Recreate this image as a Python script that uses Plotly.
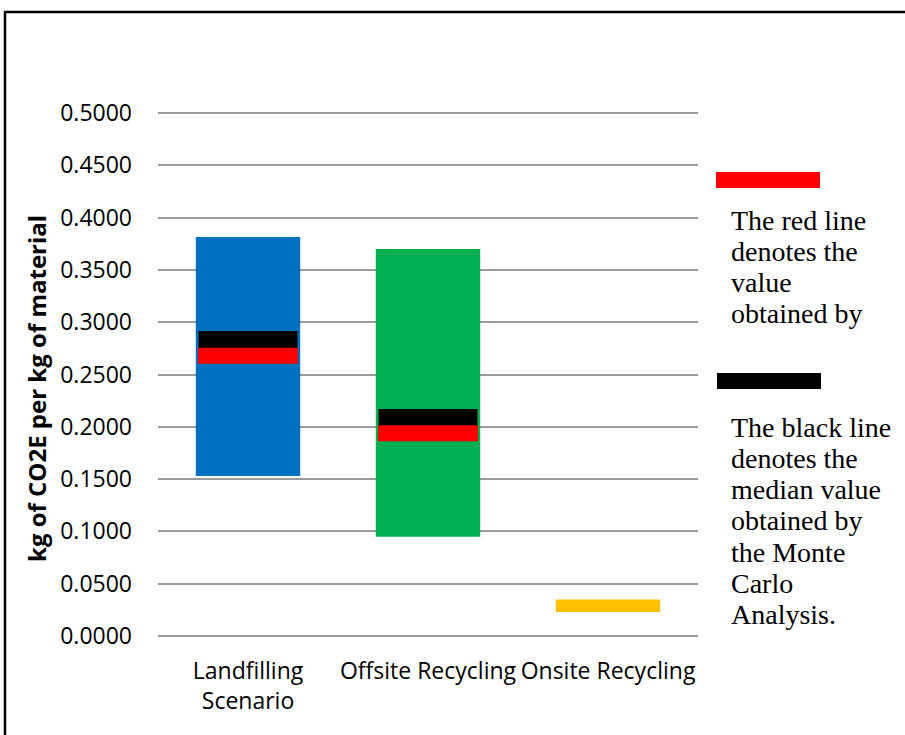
import plotly.graph_objects as go

# ---------------- data ----------------
categories = ["Landfilling<br>Scenario", "Offsite Recycling", "Onsite Recycling"]
range_low = [0.153, 0.095, 0.023]
range_high = [0.3815, 0.370, 0.035]
bar_colors = ["#0070C0", "#00B050", "#FFC000"]

marker_categories = ["Landfilling<br>Scenario", "Offsite Recycling"]
median_values = [0.2796, 0.2050]        # black line: Monte Carlo median
deterministic_values = [0.2680, 0.1938]  # red line

y_tick_values = [0.0, 0.05, 0.10, 0.15, 0.20, 0.25, 0.30, 0.35, 0.40, 0.45, 0.50]
y_tick_labels = ["0.0000", "0.0500", "0.1000", "0.1500", "0.2000", "0.2500",
                 "0.3000", "0.3500", "0.4000", "0.4500", "0.5000"]

y_title = "kg of CO2E per kg of material"
red_note_lines = ["The red line", "denotes the", "value", "obtained by"]
black_note_lines = ["The black line", "denotes the", "median value", "obtained by",
                    "the Monte", "Carlo", "Analysis."]

# ---------------- geometry helpers (pixels -> paper) ----------------
W, H = 905, 735
K = 1046.0                 # pixels per data unit on y
PAD = 2.0 / K              # small range padding so edge gridlines are drawn
L, R, T, B = 158, 207, 111, 97
PW, PH = W - L - R, H - T - B


def px_x(x):
    return (x - L) / PW


def px_y(y):
    return (H - B - y) / PH


fig = go.Figure()

fig.add_trace(go.Bar(
    x=categories,
    y=[h - l for h, l in zip(range_high, range_low)],
    base=range_low,
    marker=dict(color=bar_colors, line=dict(width=0)),
    width=0.58,
    hoverinfo="skip",
    showlegend=False,
))

# line-ew marker length is 1.4 * size in plotly.js
fig.add_trace(go.Scatter(
    x=marker_categories, y=median_values, mode="markers",
    marker=dict(symbol="line-ew", size=99 / 1.4, color="black",
                line=dict(color="black", width=25)),
    hoverinfo="skip", showlegend=False,
))
fig.add_trace(go.Scatter(
    x=marker_categories, y=deterministic_values, mode="markers",
    marker=dict(symbol="line-ew", size=100 / 1.4, color="#FF0000",
                line=dict(color="#FF0000", width=16)),
    hoverinfo="skip", showlegend=False,
))

annotations = []
annotations.append(dict(
    text=f"<b>{y_title}</b>", xref="paper", yref="paper",
    x=px_x(36), y=px_y(389), textangle=-90, showarrow=False,
    xanchor="center", yanchor="middle",
    font=dict(family="Open Sans", size=24, color="black"),
))

serif = dict(family="Liberation Serif", size=28, color="black")
for i, line in enumerate(red_note_lines):
    annotations.append(dict(
        text=line, xref="paper", yref="paper", x=px_x(729), y=px_y(220 + 31.3 * i),
        xanchor="left", yanchor="middle", showarrow=False, font=serif))
for i, line in enumerate(black_note_lines):
    annotations.append(dict(
        text=line, xref="paper", yref="paper", x=px_x(729), y=px_y(427 + 31.3 * i),
        xanchor="left", yanchor="middle", showarrow=False, font=serif))

shapes = [
    dict(type="rect", xref="paper", yref="paper",
         x0=px_x(716), x1=px_x(820), y0=px_y(188), y1=px_y(172),
         fillcolor="#FF0000", line=dict(width=0)),
    dict(type="rect", xref="paper", yref="paper",
         x0=px_x(717), x1=px_x(821), y0=px_y(389), y1=px_y(373),
         fillcolor="black", line=dict(width=0)),
    dict(type="rect", xref="paper", yref="paper", layer="above",
         x0=px_x(5), x1=px_x(915), y0=px_y(750), y1=px_y(12),
         line=dict(color="black", width=2.5)),
]

fig.update_layout(
    width=W, height=H, autosize=False,
    margin=dict(l=L, r=R, t=T, b=B, pad=0),
    paper_bgcolor="white", plot_bgcolor="white",
    barmode="overlay",
    annotations=annotations, shapes=shapes,
    xaxis=dict(type="category", range=[-0.5, 2.5], showgrid=False,
               showline=False, zeroline=False, ticks="",
               ticklabelstandoff=17,
               tickfont=dict(family="Open Sans", size=23, color="black")),
    yaxis=dict(range=[-PAD, 0.5 + PAD], tickvals=y_tick_values, ticktext=y_tick_labels,
               showgrid=True, gridcolor="#9b9b9b", gridwidth=2,
               zeroline=False, showline=False, ticks="",
               ticklabelstandoff=25,
               tickfont=dict(family="Open Sans", size=23, color="black")),
    font=dict(family="Open Sans", color="black"),
)

fig.write_html("out.html", config={"displayModeBar": False},
               post_script="document.body.style.margin='0';")
